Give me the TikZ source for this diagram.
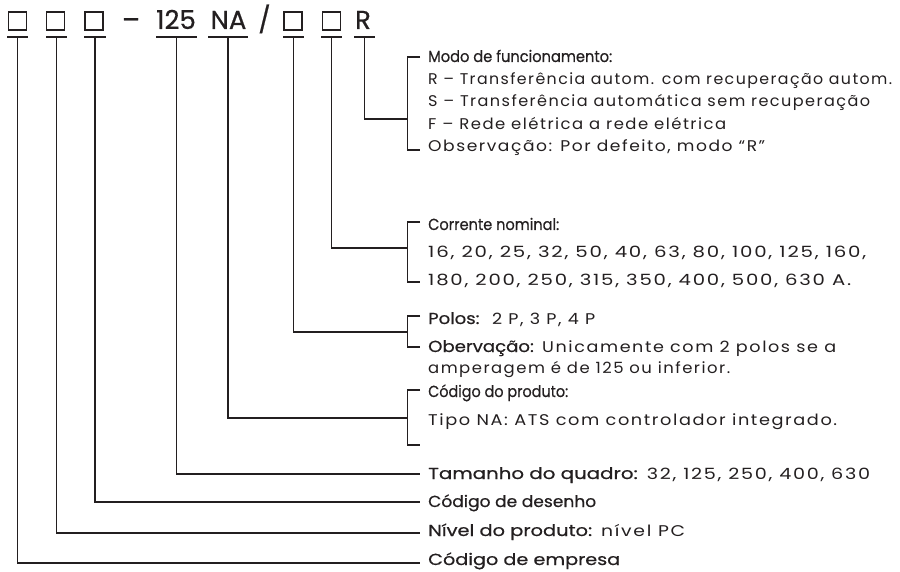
\documentclass[tikz,border=0pt]{standalone}
\usepackage{graphicx}
\usepackage{fontspec}
\setmainfont{Poppins}[LetterSpace=9]
\newfontfamily\medff{Poppins}[FakeBold=0.6]
\newcommand\medf{\medff\fontsize{16}{17}\selectfont}
\definecolor{ink}{HTML}{231F20}
\newcommand\fitw[2]{\resizebox{#1pt}{\height}{#2}}
\tikzset{
  ln/.style={draw=ink, line width=1.3pt},
  hdr/.style={font=\medff\fontsize{26}{26}\selectfont, text=ink, inner sep=0pt, anchor=base},
  sq/.style={draw=ink, line width=1.3pt, minimum width=18pt, minimum height=18pt, inner sep=0pt},
  txt/.style={anchor=base west, inner sep=0pt, text=ink, font=\fontsize{15.5}{16}\selectfont},
}
\begin{document}
\begin{tikzpicture}[x=1pt,y=-1pt]
\useasboundingbox (0,0) rectangle (900,572);
% header
\node[sq] (b1) at (17.5,21) {};
\node[sq] (b2) at (55.5,21) {};
\node[sq] (b3) at (94,21) {};
\node[hdr] (dash) at (131,29) {\resizebox{18pt}{!}{–}};
\node[hdr] (n125) at (176,29) {125};
\node[hdr] (na) at (228.5,29) {NA};
\node[hdr] (sl) at (264.5,29) {/};
\node[sq] (b4) at (293,21) {};
\node[sq] (b5) at (331.5,21) {};
\node[hdr] (r) at (363,29) {R};
% underlines
\foreach \a/\b/\n in {7/28/1, 46/67/2, 84/106/3, 156/197/4, 208/248/5, 283/304/6, 321/342/7, 354/375/8}{
  \draw[ln] (\a,37) -- (\b,37);
  \coordinate (u\n) at ({(\a+\b)/2},37);
}
% text blocks
\node[txt] (m0) at (428,62) {\fitw{184}{\medf Modo de funcionamento:}};
\node[txt] (m1) at (428,85) {\fitw{464}{R – Transferência autom. com recuperação autom.}};
\node[txt] (m2) at (428,107) {\fitw{442}{S – Transferência automática sem recuperação}};
\node[txt] (m3) at (428,130) {\fitw{298}{F – Rede elétrica a rede elétrica}};
\node[txt] (m4) at (428,152) {\fitw{337}{Observação: Por defeito, modo “R”}};
\node[txt] (c0) at (428,230) {\fitw{131}{\medf Corrente nominal:}};
\node[txt] (c1) at (428,258) {\fitw{438}{16, 20, 25, 32, 50, 40, 63, 80, 100, 125, 160,}};
\node[txt] (c2) at (428,286) {\fitw{423}{180, 200, 250, 315, 350, 400, 500, 630 A.}};
\node[txt] (p0) at (428,324) {\fitw{167}{{\medf Polos:}\ \ 2 P, 3 P, 4 P}};
\node[txt] (p1) at (428,352) {\fitw{408}{{\medf Obervação:} Unicamente com 2 polos se a}};
\node[txt] (p2) at (428,373) {\fitw{302}{amperagem é de 125 ou inferior.}};
\node[txt] (d0) at (428,397) {\fitw{140}{\medf Código do produto:}};
\node[txt] (d1) at (428,425) {\fitw{409}{Tipo NA: ATS com controlador integrado.}};
\node[txt] (t0) at (428,479) {\fitw{442}{{\medf Tamanho do quadro:} 32, 125, 250, 400, 630}};
\node[txt] (t1) at (428,507) {\fitw{168}{\medf Código de desenho}};
\node[txt] (t2) at (428,536) {\fitw{257}{{\medf Nível do produto:} nível PC}};
\node[txt] (t3) at (428,565) {\fitw{192}{\medf Código de empresa}};
% bracket junctions
\coordinate (kR) at (407.5,119);
\coordinate (kC) at (407.5,248);
\coordinate (kP) at (407.5,332);
\coordinate (kD) at (407.5,418);
% brackets
\draw[ln] (420,57) -- (407.5,57) -- (407.5,150) -- (420,150);
\draw[ln] (420,222) -- (407.5,222) -- (407.5,282) -- (420,282);
\draw[ln] (420,316) -- (407.5,316) -- (407.5,347) -- (420,347);
\draw[ln] (420,390) -- (407.5,390) -- (407.5,445) -- (420,445);
% connectors
\draw[ln] (u8) |- (kR);
\draw[ln] (u7) |- (kC);
\draw[ln] (u6) |- (kP);
\draw[ln] (u5) |- (kD);
\coordinate (e4) at (420,474);
\coordinate (e3) at (420,502);
\coordinate (e2) at (420,533);
\coordinate (e1) at (420,563);
\draw[ln] (u4) |- (e4);
\draw[ln] (u3) |- (e3);
\draw[ln] (u2) |- (e2);
\draw[ln] (u1) |- (e1);
\end{tikzpicture}
\end{document}
